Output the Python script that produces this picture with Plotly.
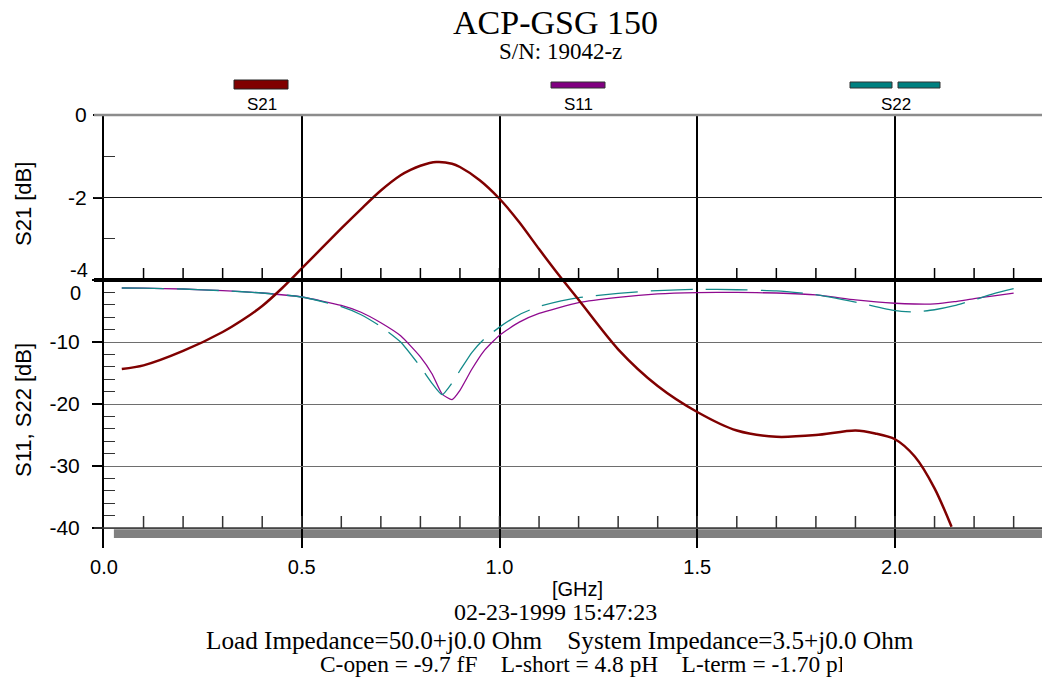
import plotly.graph_objects as go

# ---- values ----
# S21 (upper scale, dB) vs frequency (GHz)
s21_freq = [0.045, 0.1, 0.2, 0.3, 0.35, 0.4, 0.45, 0.5, 0.6, 0.65, 0.7, 0.75, 0.775, 0.8, 0.84, 0.88, 0.9, 0.95,
            1.0, 1.05, 1.1, 1.15, 1.2, 1.3, 1.4, 1.5, 1.6, 1.7, 1.8, 1.9, 1.95, 2.0, 2.05, 2.1, 2.143]
s21_db = [-6.16, -6.07, -5.72, -5.26, -4.97, -4.63, -4.2, -3.72, -2.75, -2.28, -1.83, -1.46, -1.33, -1.23, -1.14, -1.18, -1.26, -1.58,
          -2.03, -2.6, -3.25, -3.88, -4.48, -5.68, -6.57, -7.2, -7.65, -7.8, -7.76, -7.65, -7.72, -7.86, -8.28, -9.05, -9.98]

# S11 / S22 (lower scale, dB)
freq = [0.045, 0.1, 0.2, 0.3, 0.4, 0.5, 0.6, 0.65, 0.7, 0.75, 0.8, 0.83, 0.855, 0.88, 0.9,
        0.93, 0.96, 1.0, 1.05, 1.1, 1.2, 1.3, 1.4, 1.5, 1.6, 1.7, 1.8, 1.9, 2.0, 2.05, 2.1, 2.15, 2.2, 2.25, 2.3]
s11_db = [-1.29, -1.32, -1.45, -1.72, -2.1, -2.74, -4.1, -5.2, -6.9, -9.0, -12.4, -15.2, -18.4, -19.3, -17.8,
          -14.4, -11.5, -8.9, -6.8, -5.4, -3.65, -2.8, -2.25, -2.04, -2.0, -2.1, -2.4, -3.2, -3.75, -3.87, -3.85, -3.5, -3.0, -2.55, -2.1]
s22_db = [-1.29, -1.32, -1.45, -1.72, -2.1, -2.74, -4.3, -5.6, -7.5, -10.0, -14.0, -16.7, -18.5, -16.6, -14.6,
          -11.7, -9.6, -7.6, -5.6, -4.25, -2.85, -2.15, -1.7, -1.5, -1.57, -1.75, -2.35, -3.56, -4.95, -5.15, -4.8, -4.15, -3.2, -2.2, -1.4]

x_labels = [0.0, 0.5, 1.0, 1.5, 2.0]
x_minor = [round(0.1 * i, 1) for i in range(1, 24)]
s21_ticks = [0, -2, -4]
s21_ticktext = ['0', '-2', '']
s21_minor = [-1, -3]
s11_ticks = [0, -10, -20, -30, -40]
s11_ticktext = ['', '-10', '-20', '-30', '-40']
s11_minor = [v for v in range(-2, -40, -2) if v % 10]

title = 'ACP-GSG 150'
subtitle = 'S/N: 19042-z'
footer_date = '02-23-1999 15:47:23'
NB = '\u00a0' * 4
footer_imp = 'Load Impedance=50.0+j0.0 Ohm' + NB + 'System Impedance=3.5+j0.0 Ohm'
footer_cal = 'C-open = -9.7 fF' + NB + 'L-short = 4.8 pH' + NB + 'L-term = -1.70 pH'

# ---- geometry (pixel positions are window positions) ----
PAGE_OFFSET = 8       # the html body margin puts the figure 8px in from the window corner
WIN_W, WIN_H = 1050, 680
W, H = WIN_W - PAGE_OFFSET, WIN_H - PAGE_OFFSET
PLOT_L, PLOT_R, PLOT_T, PLOT_B = 104, 1050, 115, 548
PX_PER_GHZ = 395.5
PX_PER_DB21 = 41.25   # S21 scale, 0 dB on the top edge
PX_PER_DB11 = 6.2     # S11/S22 scale
Y0_DB11 = 280         # pixel row of 0 dB on the lower scale

x_range = [0, (PLOT_R - PLOT_L) / PX_PER_GHZ]
s21_range = [-(PLOT_B - PLOT_T) / PX_PER_DB21, 0]
s11_range = [-(PLOT_B - Y0_DB11) / PX_PER_DB11, (Y0_DB11 - PLOT_T) / PX_PER_DB11]

C_S21 = '#800000'
C_S11 = '#8f0a8f'
C_S22 = '#138a8a'
SANS = 'Liberation Sans, Arial, sans-serif'
SERIF = 'Liberation Serif, Times New Roman, serif'


def px_x(px):
    return (px - PLOT_L) / (PLOT_R - PLOT_L)


def px_y(py):
    return (PLOT_B - py) / (PLOT_B - PLOT_T)


def text(t, px, py, size, family=SANS, **kw):
    d = dict(text=t, x=px_x(px), y=px_y(py), xref='paper', yref='paper', showarrow=False,
             font=dict(family=family, size=size, color='black'), xanchor='center', yanchor='middle',
             borderpad=0)
    d.update(kw)
    return d


fig = go.Figure()
fig.add_trace(go.Scatter(x=freq, y=s11_db, yaxis='y', mode='lines', name='S11',
                         line=dict(color=C_S11, width=1.3, shape='spline', smoothing=0.5)))
fig.add_trace(go.Scatter(x=freq, y=s22_db, yaxis='y', mode='lines', name='S22',
                         line=dict(color=C_S22, width=1.3, dash='42px,13px', shape='spline', smoothing=0.5)))
fig.add_trace(go.Scatter(x=s21_freq, y=s21_db, yaxis='y2', mode='lines', name='S21',
                         line=dict(color=C_S21, width=2.5, shape='spline', smoothing=0.8)))

shapes = []
# gray bar under the -40 dB line
shapes.append(dict(type='rect', layer='below', xref='x', yref='y', x0=0.025, x1=x_range[1],
                   y0=-40.2, y1=-41.6, fillcolor='#808080', line=dict(width=0)))
# horizontal reference lines
shapes.append(dict(type='line', xref='paper', yref='paper', x0=px_x(94), x1=1, y0=1, y1=1,
                   line=dict(color='#8c8c8c', width=2.5)))
shapes.append(dict(type='line', xref='paper', yref='y2', x0=px_x(94), x1=1, y0=-2, y1=-2,
                   line=dict(color='#1a1a1a', width=1.2)))
shapes.append(dict(type='line', xref='paper', yref='y2', x0=px_x(94), x1=1, y0=-4, y1=-4,
                   line=dict(color='black', width=4)))
shapes.append(dict(type='line', xref='paper', yref='y', x0=px_x(94), x1=1, y0=-40, y1=-40,
                   line=dict(color='#3a3a3a', width=1.5)))
# 0.1 GHz ticks on the divider line and on the -40 dB line
for v in x_minor:
    shapes.append(dict(type='line', xref='x', yref='y2', x0=v, x1=v, y0=-4, y1=-4 + 12 / PX_PER_DB21,
                       line=dict(color='black', width=1.5)))
    shapes.append(dict(type='line', xref='x', yref='y', x0=v, x1=v, y0=-40, y1=-40 + 12 / PX_PER_DB11,
                       line=dict(color='#333333', width=1.5)))
# legend swatches
shapes.append(dict(type='rect', xref='paper', yref='paper', x0=px_x(234), x1=px_x(288),
                   y0=px_y(89), y1=px_y(80), fillcolor=C_S21, line=dict(color='#222', width=1)))
shapes.append(dict(type='rect', xref='paper', yref='paper', x0=px_x(551), x1=px_x(605),
                   y0=px_y(88), y1=px_y(82), fillcolor='#800080', line=dict(color='#333', width=1)))
for a, b in [(850, 892), (898, 940)]:
    shapes.append(dict(type='rect', xref='paper', yref='paper', x0=px_x(a), x1=px_x(b),
                       y0=px_y(88), y1=px_y(82), fillcolor='#008080', line=dict(color='#333', width=1)))

annotations = [
    text(title, 555, 22, 34, SERIF),
    text(subtitle, 560, 51, 23, SERIF),
    text('S21', 262, 104, 17),
    text('S11', 578, 104, 17),
    text('S22', 896, 104, 17),
    text('S21 [dB]', 23, 204, 22, textangle=-90),
    text('S11, S22 [dB]', 23, 410, 22, textangle=-90),
    text('[GHz]', 577, 589, 20),
    text(footer_date, 555, 612, 24, SERIF),
    text(footer_imp, 560, 640, 25.2, SERIF),
    text(footer_cal, 319, 664, 23.4, SERIF, xanchor='left', align='left', width=522),
    # shifted tick labels where the two scales meet
    dict(text='-4', x=px_x(90), y=-4, xref='paper', yref='y2', yshift=10, showarrow=False,
         xanchor='right', yanchor='middle', font=dict(family=SANS, size=20, color='black')),
    dict(text='0', x=px_x(83), y=0, xref='paper', yref='y', yshift=-13, showarrow=False,
         xanchor='right', yanchor='middle', font=dict(family=SANS, size=20, color='black')),
]

fig.update_layout(
    width=W, height=H,
    margin=dict(l=PLOT_L - PAGE_OFFSET, r=WIN_W - PLOT_R, t=PLOT_T - PAGE_OFFSET, b=WIN_H - PLOT_B, pad=0),
    paper_bgcolor='white', plot_bgcolor='white', showlegend=False,
    font=dict(family=SANS, color='black'),
    xaxis=dict(range=x_range, tickmode='array', tickvals=x_labels,
               ticktext=[f'{v:.1f}' for v in x_labels], ticks='', showline=False,
               showgrid=True, gridcolor='black', gridwidth=1.5, zeroline=False,
               tickfont=dict(family=SANS, size=20), ticklabelstandoff=5),
    yaxis=dict(range=s11_range, tickmode='array', tickvals=s11_ticks, ticktext=s11_ticktext,
               ticks='outside', ticklen=10, tickwidth=1.5, tickcolor='black',
               showline=True, linecolor='black', linewidth=2,
               showgrid=True, gridcolor='#6e6e6e', gridwidth=1.3, zeroline=False,
               minor=dict(tickmode='array', tickvals=s11_minor, ticks='inside', ticklen=11,
                          tickwidth=1.2, tickcolor='#333333', showgrid=False),
               tickfont=dict(family=SANS, size=21), ticklabelstandoff=8),
    yaxis2=dict(overlaying='y', side='left', anchor='x', range=s21_range, tickmode='array',
                tickvals=s21_ticks, ticktext=s21_ticktext,
                ticks='outside', ticklen=10, tickwidth=1.5, tickcolor='black',
                showline=False, showgrid=False, zeroline=False,
                minor=dict(tickmode='array', tickvals=s21_minor, ticks='inside', ticklen=11,
                           tickwidth=1.2, tickcolor='#333333', showgrid=False),
                tickfont=dict(family=SANS, size=21), ticklabelstandoff=2),
    shapes=shapes,
    annotations=annotations,
)

fig.write_html('out.html')
